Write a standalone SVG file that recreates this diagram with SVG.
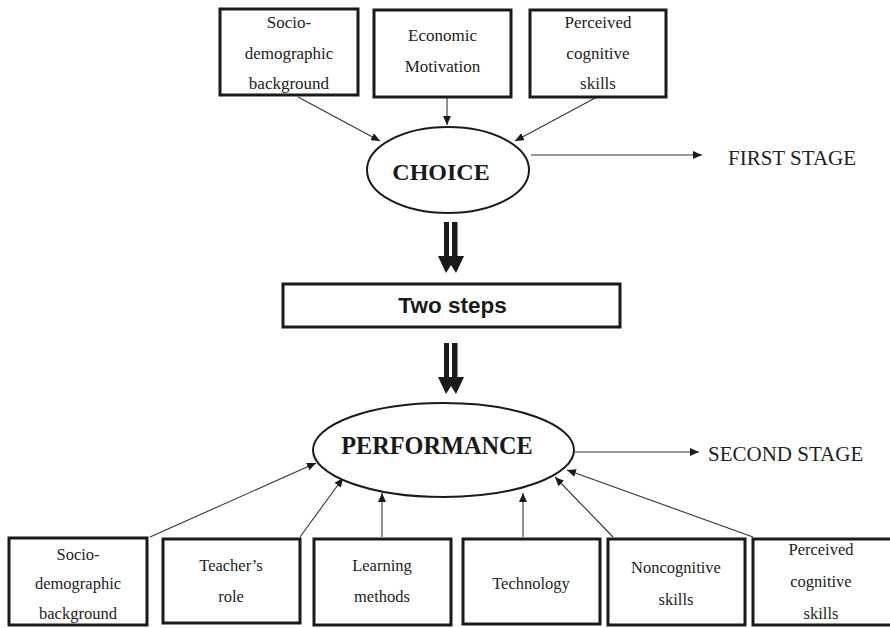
<svg xmlns="http://www.w3.org/2000/svg" width="890" height="628" viewBox="0 0 890 628">
<style>
.box{fill:#fff;stroke:#1a1a1a;stroke-width:3}
.ell{fill:#fff;stroke:#1a1a1a;stroke-width:2}
.t{font-family:"Liberation Serif","Times New Roman",serif;font-size:17px;fill:#222;text-anchor:middle}
.tb{font-size:16.5px}
.big{font-family:"Liberation Serif","Times New Roman",serif;font-weight:bold;font-size:24px;fill:#1a1a1a;text-anchor:middle}
.stage{font-family:"Liberation Serif","Times New Roman",serif;font-size:21px;fill:#222}
.conn{stroke:#333;stroke-width:1.1;fill:none;marker-end:url(#ah)}
.shaft{fill:#1a1a1a}
</style>
<defs>
<marker id="ah" markerUnits="userSpaceOnUse" markerWidth="10" markerHeight="8" refX="9" refY="4" orient="auto">
<path d="M0,0 L9,4 L0,8 Z" fill="#1a1a1a"/>
</marker>
</defs>
<rect width="890" height="628" fill="#fff"/>

<g id="connectors">
<line class="conn" x1="298" y1="97" x2="380" y2="141"/>
<line class="conn" x1="447" y1="97" x2="447" y2="125"/>
<line class="conn" x1="597" y1="97" x2="515" y2="141"/>
<line class="conn" x1="531" y1="155" x2="702" y2="155"/>
<line class="conn" x1="575" y1="452" x2="699" y2="452"/>
<line class="conn" x1="150" y1="537" x2="316" y2="463"/>
<line class="conn" x1="300" y1="537" x2="343" y2="478"/>
<line class="conn" x1="382" y1="537" x2="382" y2="493"/>
<line class="conn" x1="523" y1="537" x2="523" y2="493"/>
<line class="conn" x1="613" y1="537" x2="555" y2="477"/>
<line class="conn" x1="753" y1="537" x2="567" y2="470"/>
<g id="double-arrow-1">
<rect class="shaft" x="444" y="222" width="5" height="36"/>
<rect class="shaft" x="452" y="222" width="5.5" height="36"/>
<path class="shaft" d="M438,256 L464,256 L456,273 L451,265 L446,273 Z"/>
</g>
<g id="double-arrow-2">
<rect class="shaft" x="444" y="343" width="5" height="36"/>
<rect class="shaft" x="452" y="343" width="5.5" height="36"/>
<path class="shaft" d="M438,377 L464,377 L456,394 L451,386 L446,394 Z"/>
</g>
</g>

<g id="top-socio">
<rect class="box" x="220" y="9" width="138" height="86"/>
<text class="t" x="289" y="28">Socio-</text>
<text class="t" x="289" y="59">demographic</text>
<text class="t" x="289" y="89">background</text>
</g>
<g id="top-economic">
<rect class="box" x="374" y="10" width="137" height="87"/>
<text class="t" x="442.5" y="41">Economic</text>
<text class="t" x="442.5" y="72">Motivation</text>
</g>
<g id="top-perceived">
<rect class="box" x="530" y="10" width="136" height="87"/>
<text class="t" x="598" y="28">Perceived</text>
<text class="t" x="598" y="59">cognitive</text>
<text class="t" x="598" y="89">skills</text>
</g>

<g id="choice">
<ellipse class="ell" cx="448" cy="170" rx="81" ry="43"/>
<text class="big" x="441" y="180">CHOICE</text>
</g>
<g id="first-stage">
<text class="stage" x="728" y="165">FIRST STAGE</text>
</g>

<g id="two-steps">
<rect class="box" x="283" y="284" width="337" height="43"/>
<text x="452.5" y="313" text-anchor="middle" font-family="Liberation Sans, Arial, sans-serif" font-weight="bold" font-size="22.5" fill="#1a1a1a">Two steps</text>
</g>

<g id="performance">
<ellipse class="ell" cx="443.5" cy="450" rx="130.5" ry="47"/>
<text class="big" x="437" y="454" style="font-size:24.3px">PERFORMANCE</text>
</g>
<g id="second-stage">
<text class="stage" x="708" y="461">SECOND STAGE</text>
</g>

<g id="bot-socio">
<rect class="box" x="9" y="538" width="138" height="87"/>
<text class="t tb" x="78" y="560">Socio-</text>
<text class="t tb" x="78" y="589">demographic</text>
<text class="t tb" x="78" y="619">background</text>
</g>
<g id="bot-teacher">
<rect class="box" x="163" y="539" width="137" height="84"/>
<text class="t tb" x="231" y="571">Teacher’s</text>
<text class="t tb" x="231" y="602">role</text>
</g>
<g id="bot-learning">
<rect class="box" x="314" y="539" width="137" height="86"/>
<text class="t tb" x="382" y="571">Learning</text>
<text class="t tb" x="382" y="602">methods</text>
</g>
<g id="bot-technology">
<rect class="box" x="463" y="539" width="137" height="85"/>
<text class="t tb" x="531" y="589">Technology</text>
</g>
<g id="bot-noncognitive">
<rect class="box" x="608" y="539" width="137" height="86"/>
<text class="t tb" x="676" y="573">Noncognitive</text>
<text class="t tb" x="676" y="605">skills</text>
</g>
<g id="bot-perceived">
<rect class="box" x="753" y="539" width="140" height="86"/>
<text class="t tb" x="821" y="555">Perceived</text>
<text class="t tb" x="821" y="587">cognitive</text>
<text class="t tb" x="821" y="619">skills</text>
</g>
</svg>
